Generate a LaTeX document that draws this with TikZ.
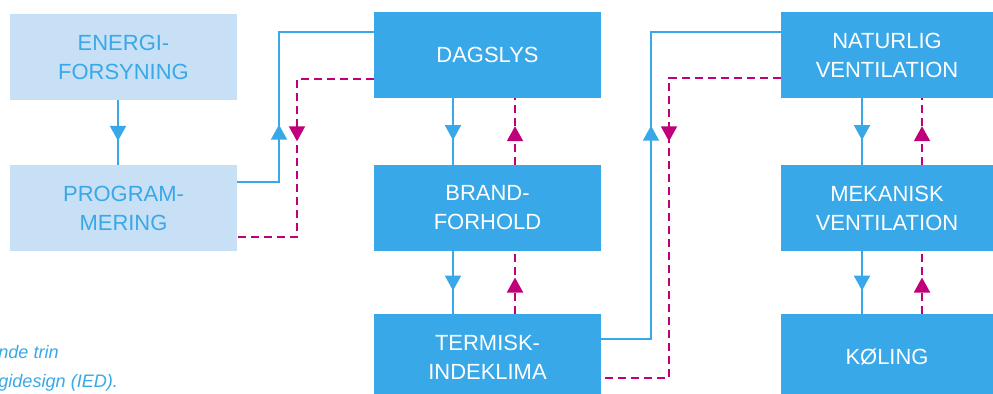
\documentclass[tikz,border=0pt]{standalone}
\usepackage{fontspec}
\setmainfont{Liberation Sans}
\usetikzlibrary{arrows.meta,decorations.markings,calc}
\definecolor{boxblue}{RGB}{56,168,232}
\definecolor{lightbox}{RGB}{200,224,245}
\definecolor{lnkmag}{RGB}{192,0,122}
\begin{document}
\begin{tikzpicture}[x=0.02cm,y=-0.02cm,
  box/.style={rectangle, minimum width=4.54cm, minimum height=1.72cm, inner sep=0pt, align=center, font=\fontsize{12.5}{16.5}\selectfont},
  darkbox/.style={box, fill=boxblue, text=white},
  lightbx/.style={box, fill=lightbox, text=boxblue},
  narrowbox/.style={darkbox, minimum width=4.24cm},
  flow/.style={color=boxblue, line width=1.1pt},
  back/.style={color=lnkmag, line width=1.1pt, dash pattern=on 0.16cm off 0.1cm},
  tipat/.style={postaction={decorate}, decoration={markings, mark=at position #1 with {\arrow{Triangle[width=0.32cm,length=0.3cm]}}}},
  note/.style={anchor=base west, inner sep=0pt, text=boxblue, font=\fontsize{10.3}{12}\selectfont\itshape}
]
\clip (0,0) rectangle (993,393);

% boxes
\node[lightbx] (energi) at (123.5,57) {ENERGI-\\FORSYNING};
\node[lightbx] (program) at (123.5,208) {PROGRAM-\\MERING};
\node[darkbox] (dagslys) at (487.5,55) {DAGSLYS};
\node[darkbox] (brand) at (487.5,208) {BRAND-\\FORHOLD};
\node[darkbox] (termisk) at (487.5,357) {TERMISK-\\INDEKLIMA};
\node[narrowbox] (naturlig) at (887,55) {NATURLIG\\VENTILATION};
\node[narrowbox] (mekanisk) at (887,208) {MEKANISK\\VENTILATION};
\node[narrowbox] (koling) at (887,357) {KØLING};

% footnote
\node[note] (note1) at (-2,358) {nde trin};
\node[note] (note2) at (-2,387) {gidesign (IED).};

% vertical links
\draw[flow, tipat=0.63] ($(energi.south)+(-5.5,0)$) -- ($(program.north)+(-5.5,0)$);
\draw[flow, tipat=0.63] ($(dagslys.south)+(-34.5,0)$) -- ($(brand.north)+(-34.5,0)$);
\draw[back, tipat=0.58] ($(brand.north)+(27.5,0)$) -- ($(dagslys.south)+(27.5,0)$);
\draw[flow, tipat=0.63] ($(brand.south)+(-34.5,0)$) -- ($(termisk.north)+(-34.5,0)$);
\draw[back, tipat=0.58] ($(termisk.north)+(27.5,0)$) -- ($(brand.south)+(27.5,0)$);
\draw[flow, tipat=0.63] ($(naturlig.south)+(-25,0)$) -- ($(mekanisk.north)+(-25,0)$);
\draw[back, tipat=0.58] ($(mekanisk.north)+(35,0)$) -- ($(naturlig.south)+(35,0)$);
\draw[flow, tipat=0.63] ($(mekanisk.south)+(-25,0)$) -- ($(koling.north)+(-25,0)$);
\draw[back, tipat=0.58] ($(koling.north)+(35,0)$) -- ($(mekanisk.south)+(35,0)$);

% cross links
\draw[flow, tipat=1.98cm] ($(program.east)+(0,-26)$) -| (279,32) -- ($(dagslys.west)+(0,-23)$);
\draw[back, tipat=2.78cm] ($(dagslys.west)+(0,24)$) -| (297,237) -- ($(program.east)+(0,29)$);
\draw[flow, tipat=5.26cm] ($(termisk.east)+(0,-18)$) -| (651,32) -- ($(naturlig.west)+(0,-23)$);
\draw[back, tipat=3.5cm] ($(naturlig.west)+(0,23)$) -| (669,378) -- ($(termisk.east)+(0,21)$);
\end{tikzpicture}
\end{document}
